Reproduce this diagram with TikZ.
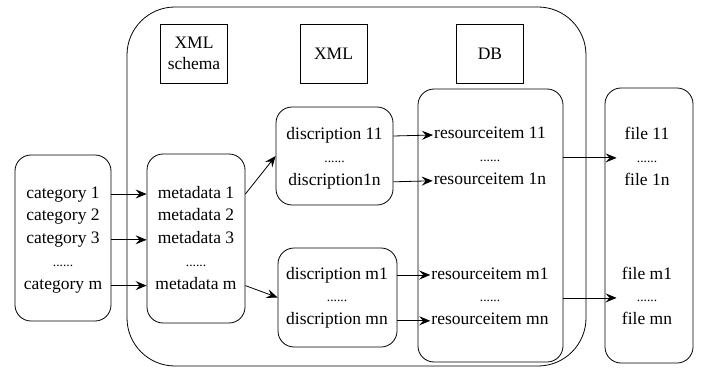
\documentclass[tikz,border=0pt]{standalone}
\usepackage{fontspec}
\setmainfont{Liberation Serif}
\usetikzlibrary{positioning,arrows.meta}
\tikzset{
  box/.style={draw, line width=0.8pt, rounded corners=16pt},
  tag/.style={draw, line width=0.8pt, minimum width=67pt, minimum height=59pt, align=center, inner sep=0pt},
  entry/.style={inner sep=1pt, text height=12pt, text depth=4pt},
  gap/.style={entry, font=\fontsize{13.5}{16}\selectfont},
  arr/.style={line width=0.8pt, -{Stealth[length=11pt,width=9pt,inset=4pt]}},
}
\begin{document}
\begin{tikzpicture}[x=1pt,y=1pt,node distance=4.5pt,font=\fontsize{17.5}{21}\selectfont]
  \useasboundingbox (0,0) rectangle (701,370);
  \node[box, rounded corners=48pt, minimum width=459pt, minimum height=359pt] (sys) at (356.5,183.5) {};

  \node[tag] (xsd) at (194,316.5) {XML\\schema};
  \node[tag] (xml) at (333.5,316.5) {XML};
  \node[tag] (db) at (490,316.5) {DB};

  \node[box, minimum width=96pt, minimum height=166pt] (cat) at (63,132) {};
  \node[entry] (c1) at (63,176) {category 1};
  \node[entry, below=of c1] (c2) {category 2};
  \node[entry, below=of c2] (c3) {category 3};
  \node[gap, below=of c3] (cd) {......};
  \node[entry, below=of cd] (cm) {category m};

  \node[box, minimum width=98pt, minimum height=169pt] (meta) at (196,131.5) {};
  \node[entry] (m1) at (196,176) {metadata 1};
  \node[entry, below=of m1] (m2) {metadata 2};
  \node[entry, below=of m2] (m3) {metadata 3};
  \node[gap, below=of m3] (md) {......};
  \node[entry, below=of md] (mm) {metadata m};

  \node[box, minimum width=117pt, minimum height=98pt] (desc1) at (334.5,214) {};
  \node[entry] (d11) at (334.5,234) {discription 11};
  \node[gap, below=of d11] (dd1) {......};
  \node[entry, below=of dd1] (d1n) {discription1n};

  \node[box, minimum width=119pt, minimum height=99pt] (desc2) at (337.5,72.5) {};
  \node[entry] (dm1) at (337,95) {discription m1};
  \node[gap, below=of dm1] (dd2) {......};
  \node[entry, below=of dd2] (dmn) {discription mn};

  \node[box, minimum width=145pt, minimum height=273pt] (res) at (490.5,144.5) {};
  \node[entry] (r11) at (490,235) {resourceitem 11};
  \node[gap, below=of r11] (rd1) {......};
  \node[entry, below=of rd1] (r1n) {resourceitem 1n};
  \node[entry] (rm1) at (490,95) {resourceitem m1};
  \node[gap, below=of rm1] (rd2) {......};
  \node[entry, below=of rd2] (rmn) {resourceitem mn};

  \node[box, minimum width=88pt, minimum height=275pt] (file) at (649,144.5) {};
  \node[entry] (f11) at (647,234) {file 11};
  \node[gap, below=of f11] (fd1) {......};
  \node[entry, below=of fd1] (f1n) {file 1n};
  \node[entry] (fm1) at (647,95) {file m1};
  \node[gap, below=of fm1] (fd2) {......};
  \node[entry, below=of fd2] (fmn) {file mn};

  \coordinate (in1) at ([xshift=12pt]file.west |- rd1);
  \coordinate (in2) at ([xshift=12pt]file.west |- rd2);

  \draw[arr] (cat.east |- c1) -- (meta.west |- c1);
  \draw[arr] (cat.east |- c3) -- (meta.west |- c3);
  \draw[arr] (cat.east |- cm) -- (meta.west |- cm);
  \draw[arr] (meta.east |- m1) -- (desc1.west);
  \draw[arr] (meta.east |- mm) -- (desc2.west);
  \draw[arr] (desc1.east |- d11) -- (r11.west);
  \draw[arr] (desc1.east |- d1n) -- (r1n.west);
  \draw[arr] (desc2.east |- dm1) -- (rm1.west);
  \draw[arr] (desc2.east |- dmn) -- (rmn.west);
  \draw[arr] (res.east |- rd1) -- (in1);
  \draw[arr] (res.east |- rd2) -- (in2);
\end{tikzpicture}
\end{document}
